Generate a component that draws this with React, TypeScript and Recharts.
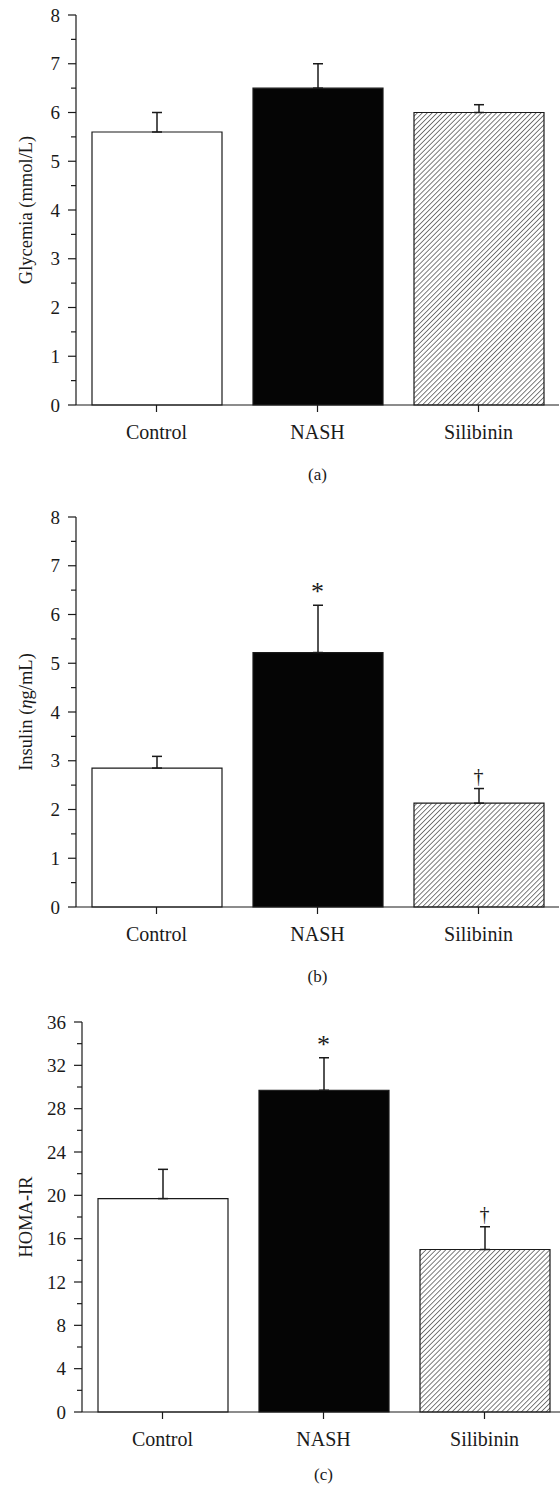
import React from 'react';
import { ComposedChart, Bar, Line, XAxis, YAxis, ErrorBar, Cell, Label } from 'recharts';

const groups = ['Control', 'NASH', 'Silibinin'];

// (a) glycemia, mmol/L
const glycemia = [5.6, 6.5, 6.0];
const glycemiaErr = [0.4, 0.5, 0.16];
const glycemiaMarks = ['', '', ''];

// (b) insulin, ng/mL
const insulin = [2.85, 5.22, 2.13];
const insulinErr = [0.24, 0.97, 0.3];
const insulinMarks = ['', '*', '†'];

// (c) HOMA-IR
const homa = [19.7, 29.7, 15.0];
const homaErr = [2.7, 3.0, 2.1];
const homaMarks = ['', '*', '†'];

const ticks8 = [0, 0.5, 1, 1.5, 2, 2.5, 3, 3.5, 4, 4.5, 5, 5.5, 6, 6.5, 7, 7.5, 8];
const ticks36 = [0, 2, 4, 6, 8, 10, 12, 14, 16, 18, 20, 22, 24, 26, 28, 30, 32, 34, 36];

const FONT = '"Liberation Serif", "DejaVu Serif", serif';
const INK = '#1a1a1a';

const makeYTick = (majorStep: number) => (props: any) => {
  const { x, y, payload } = props;
  const axisX = x + 8;
  const major = Math.abs(payload.value / majorStep - Math.round(payload.value / majorStep)) < 1e-6;
  return (
    <g>
      <line x1={axisX - (major ? 8 : 5)} y1={y} x2={axisX} y2={y} stroke={INK} strokeWidth={1.2} />
      {major && (
        <text x={axisX - 16} y={y} textAnchor="end" dominantBaseline="central" fontSize={19} fontFamily={FONT} fill={INK}>
          {payload.value}
        </text>
      )}
    </g>
  );
};

const renderMark = (p: any) => {
  const mark = p.payload?.mark;
  if (!mark || p.cx == null) return <g key={`m-${p.index}`} />;
  const star = mark === '*';
  return (
    <text
      key={`m-${p.index}`}
      x={p.cx}
      y={p.cy - (star ? 5 : 6)}
      textAnchor="middle"
      fontSize={star ? 26 : 20}
      fontWeight={300}
      fontFamily={FONT}
      fill={INK}
    >
      {mark}
    </text>
  );
};

interface PanelProps {
  id: string;
  values: number[];
  errs: number[];
  marks: string[];
  ticks: number[];
  majorStep: number;
  yMax: number;
  yLabel: React.ReactNode;
  caption: string;
  captionTop: number;
  axisWidth: number;
  blockHeight: number;
}

const Panel = ({ id, values, errs, marks, ticks, majorStep, yMax, yLabel, caption, captionTop, axisWidth, blockHeight }: PanelProps) => {
  const data = groups.map((g, i) => ({
    group: g,
    value: values[i],
    err: [0, errs[i]],
    top: values[i] + errs[i],
    mark: marks[i],
  }));
  const fills = ['#ffffff', '#050505', `url(#hatch-${id})`];
  const chartWidth = axisWidth + 3 * 161 + 1;

  return (
    <div style={{ position: 'relative', width: 560, height: blockHeight, overflow: 'hidden' }}>
      <ComposedChart width={chartWidth} height={460} data={data} margin={{ top: 15, right: 1, bottom: 0, left: 0 }}>
        <defs>
          <pattern id={`hatch-${id}`} width={3.5} height={3.5} patternUnits="userSpaceOnUse" patternTransform="rotate(45)">
            <rect width={3.5} height={3.5} fill="#ffffff" />
            <line x1={0} y1={0} x2={0} y2={3.5} stroke="#111111" strokeWidth={1.1} />
          </pattern>
        </defs>
        <XAxis
          dataKey="group"
          height={55}
          interval={0}
          tickSize={7}
          tickMargin={13}
          axisLine={{ stroke: INK, strokeWidth: 1.2 }}
          tickLine={{ stroke: INK, strokeWidth: 1.2 }}
          tick={{ fontSize: 20, fontFamily: FONT, fill: INK }}
        />
        <YAxis
          width={axisWidth}
          domain={[0, yMax]}
          ticks={ticks}
          interval={0}
          tickSize={8}
          tickMargin={0}
          tickLine={false}
          axisLine={{ stroke: INK, strokeWidth: 1.2 }}
          tick={makeYTick(majorStep)}
        >
          <Label
            content={(lp: any) => {
              const vb = lp.viewBox || { x: 0, y: 15, width: axisWidth, height: 390 };
              const cx = vb.x + 26;
              const cy = vb.y + vb.height / 2;
              return (
                <text
                  x={cx}
                  y={cy}
                  transform={`rotate(-90, ${cx}, ${cy})`}
                  textAnchor="middle"
                  dominantBaseline="central"
                  fontSize={18.5}
                  fontFamily={FONT}
                  fill={INK}
                >
                  {yLabel}
                </text>
              );
            }}
          />
        </YAxis>
        <Bar dataKey="value" barSize={130} stroke={INK} strokeWidth={1.2} isAnimationActive={false}>
          {data.map((d, i) => (
            <Cell key={d.group} fill={fills[i]} />
          ))}
          <ErrorBar dataKey="err" direction="y" width={5} stroke={INK} strokeWidth={1.5} />
        </Bar>
        <Line dataKey="top" stroke="none" dot={renderMark} activeDot={false} legendType="none" isAnimationActive={false} />
      </ComposedChart>
      <div
        style={{
          position: 'absolute',
          top: captionTop,
          left: axisWidth,
          width: 3 * 161,
          textAlign: 'center',
          fontFamily: FONT,
          fontSize: 17,
          lineHeight: '18px',
          color: INK,
        }}
      >
        {caption}
      </div>
    </div>
  );
};

export default function App() {
  return (
    <div style={{ width: 560, background: '#ffffff' }}>
      <style>{`body { margin: 0; }`}</style>
      <Panel
        id="a"
        values={glycemia}
        errs={glycemiaErr}
        marks={glycemiaMarks}
        ticks={ticks8}
        majorStep={1}
        yMax={8}
        yLabel="Glycemia (mmol/L)"
        caption="(a)"
        captionTop={466}
        axisWidth={76}
        blockHeight={502}
      />
      <Panel
        id="b"
        values={insulin}
        errs={insulinErr}
        marks={insulinMarks}
        ticks={ticks8}
        majorStep={1}
        yMax={8}
        yLabel={
          <>
            Insulin (<tspan fontStyle="italic">η</tspan>g/mL)
          </>
        }
        caption="(b)"
        captionTop={466}
        axisWidth={76}
        blockHeight={505}
      />
      <Panel
        id="c"
        values={homa}
        errs={homaErr}
        marks={homaMarks}
        ticks={ticks36}
        majorStep={4}
        yMax={36}
        yLabel="HOMA-IR"
        caption="(c)"
        captionTop={459}
        axisWidth={82}
        blockHeight={480}
      />
    </div>
  );
}
